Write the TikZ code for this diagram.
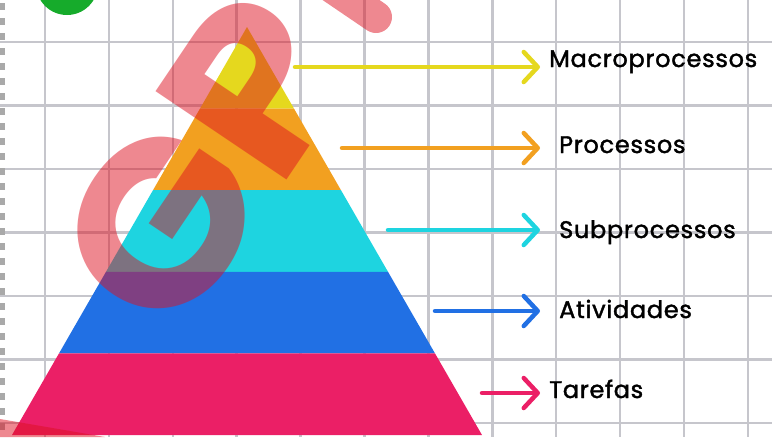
\documentclass[tikz,border=0pt]{standalone}
\usepackage{fontspec}
\setmainfont{Poppins}
\newfontfamily\rotfonte{Poppins}[FakeBold=1.6,LetterSpace=3]
\usetikzlibrary{arrows.meta}

\definecolor{grade}{HTML}{C6C6CC}
\definecolor{tracos}{HTML}{A9A9A9}
\definecolor{verde}{HTML}{16AB2B}
\definecolor{amarelo}{HTML}{E5D81E}
\definecolor{laranja}{HTML}{F2A020}
\definecolor{ciano}{HTML}{1ED4E0}
\definecolor{azul}{HTML}{2170E4}
\definecolor{rosa}{HTML}{EB1F66}
\definecolor{marca}{HTML}{DD1121}

\begin{document}
\begin{tikzpicture}[x=1pt,y=-1pt]
	\tikzstyle{linha}=[draw=grade,line width=2.5pt]
	\tikzstyle{seta}=[line width=4.5pt,line cap=round,-{Straight Barb[length=14pt,width=30pt,round]}]
	\tikzstyle{rotulo}=[anchor=base west,inner sep=0pt,font=\rotfonte\fontsize{24}{24}\selectfont]
	\useasboundingbox (0,0) rectangle (772,437);
	\clip (0,0) rectangle (772,437);

	% grade
	\foreach \i in {0,...,11}
		\draw[linha] (45+\i*63.9,0) -- ++(0,437);
	\foreach \j in {0,...,6}
		\draw[linha] (0,42+\j*63.5) -- ++(772,0);
	\draw[tracos,line width=5pt,dash pattern=on 7pt off 8pt] (2,3) -- (2,437);
	\fill[verde] (67,-16) circle (31pt);

	% piramide
	\foreach \c [count=\k] in {amarelo,laranja,ciano,azul,rosa}
		\fill[\c] ({247-47*(\k-1)},{27+81.6*(\k-1)}) -- ({247+47*(\k-1)},{27+81.6*(\k-1)})
			-- ({247+47*\k},{27+81.6*\k}) -- ({247-47*\k},{27+81.6*\k}) -- cycle;

	% rotulos
	\node[rotulo] (macro) at (549,67)  {Macroprocessos};
	\node[rotulo] (proc)  at (559,153) {Processos};
	\node[rotulo] (sub)   at (559,238) {Subprocessos};
	\node[rotulo] (ativ)  at (559,318) {Atividades};
	\node[rotulo] (tar)   at (549,398) {Tarefas};

	\coordinate (i-macro) at (295,67);  \coordinate (f-macro) at (540,67);
	\coordinate (i-proc)  at (342,148); \coordinate (f-proc)  at (540,148);
	\coordinate (i-sub)   at (388,230); \coordinate (f-sub)   at (540,230);
	\coordinate (i-ativ)  at (435,311); \coordinate (f-ativ)  at (540,311);
	\coordinate (i-tar)   at (482,393); \coordinate (f-tar)   at (540,393);

	\draw[seta,amarelo] (i-macro) -- (f-macro);
	\draw[seta,laranja] (i-proc)  -- (f-proc);
	\draw[seta,ciano]   (i-sub)   -- (f-sub);
	\draw[seta,azul]    (i-ativ)  -- (f-ativ);
	\draw[seta,rosa]    (i-tar)   -- (f-tar);

	% marca d'agua
	\node[rotate=56,text=marca,text opacity=0.5,inner sep=0pt,xscale=1.08,
		font=\fontsize{225}{225}\selectfont\bfseries] (gp) at (203,162) {GP};
	\draw[marca,opacity=0.5,line width=32pt,line cap=round] (376,17) -- (326,-17);
	\fill[marca,opacity=0.5] (0,419) -- (105,437) -- (0,437) -- cycle;
\end{tikzpicture}
\end{document}
